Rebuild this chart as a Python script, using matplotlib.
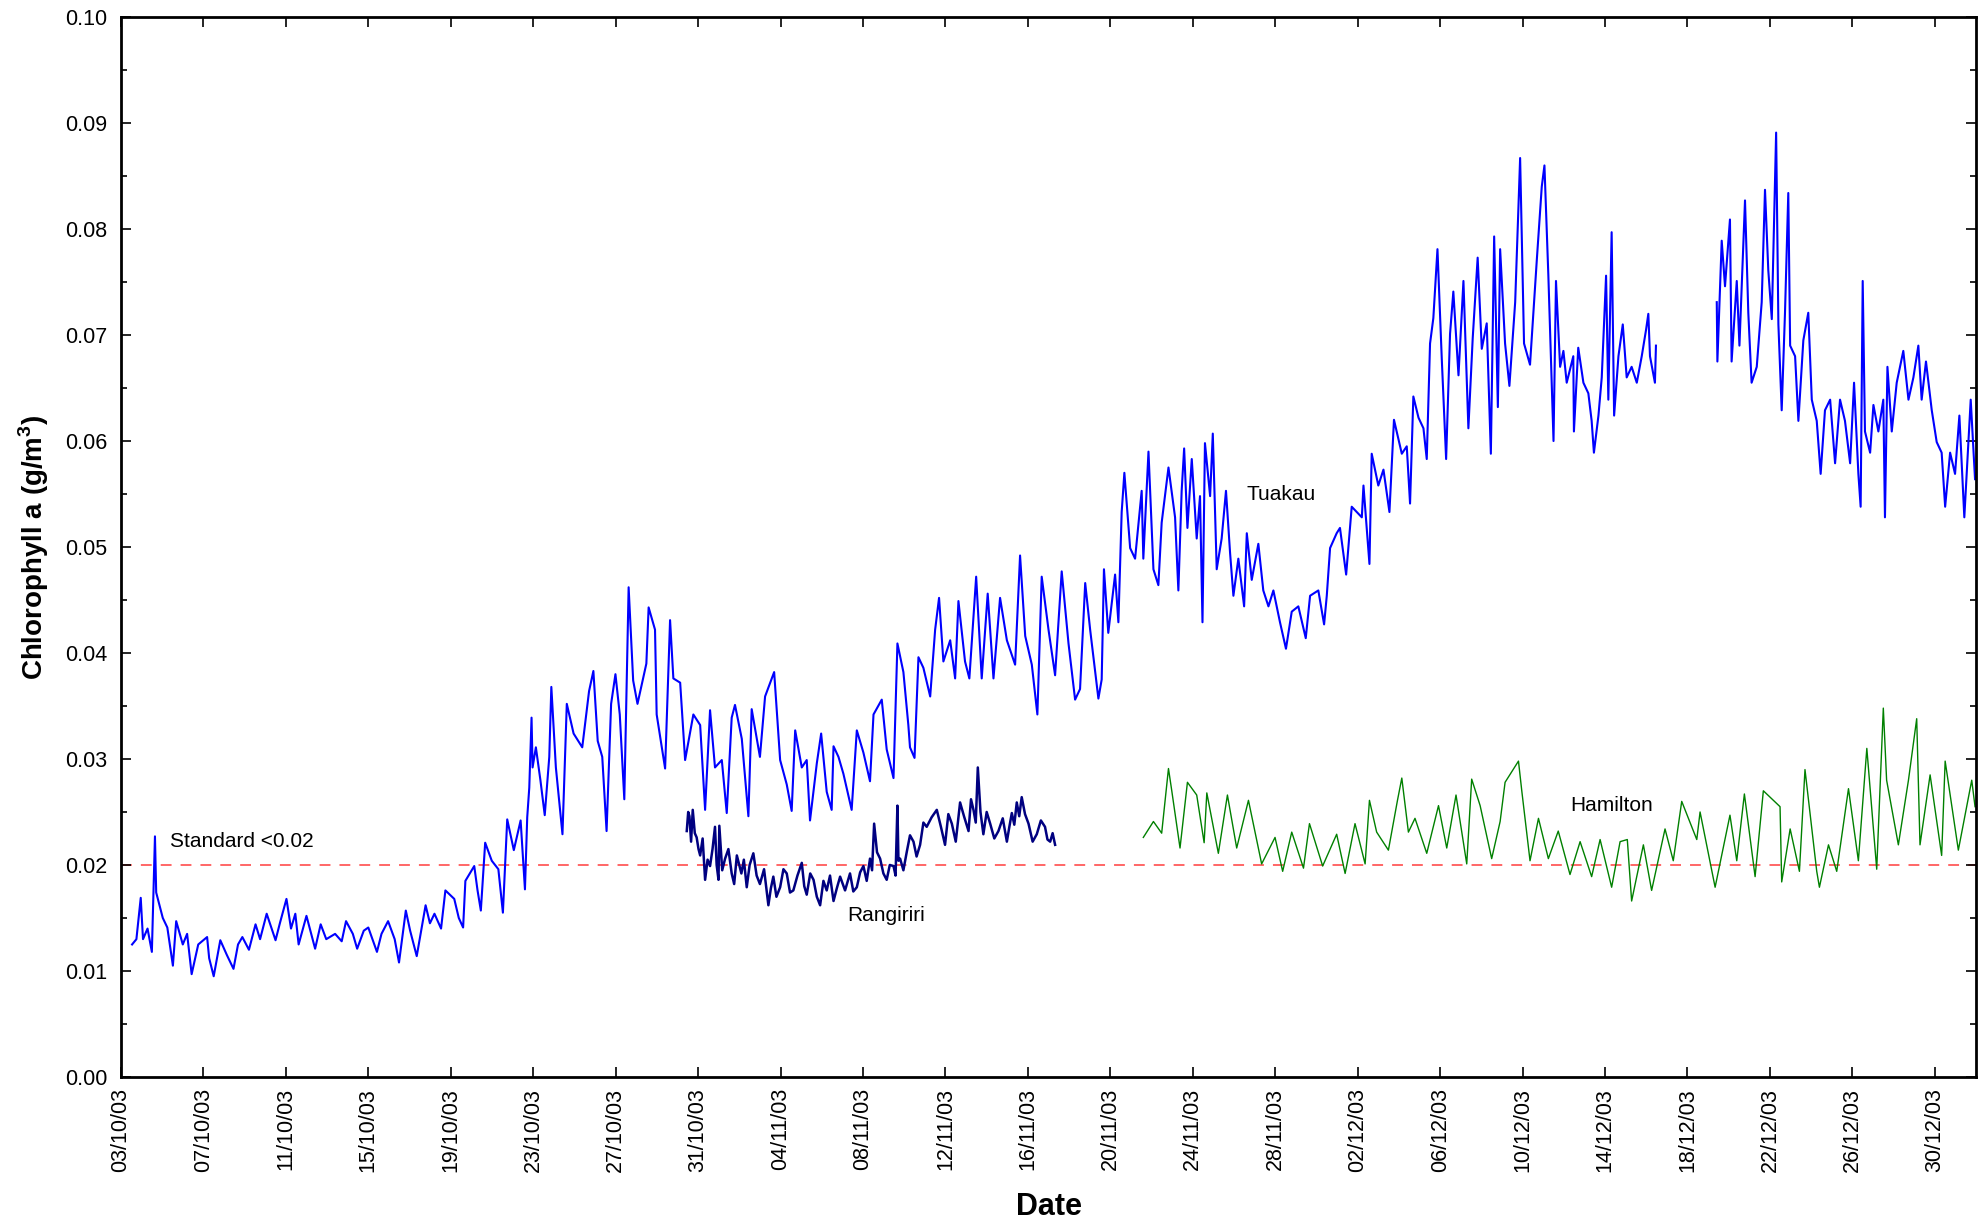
import numpy as np
import pandas as pd
import matplotlib
matplotlib.use("Agg")
import matplotlib.pyplot as plt
import matplotlib.dates as mdates
from matplotlib.ticker import MultipleLocator, FormatStrFormatter

# days after 03/10/03 00:00, chlorophyll a (g/m3)
tuakau_a_day = [
    0.54, 0.75, 0.96, 1.07, 1.29, 1.5, 1.65, 1.71, 2.03, 2.25, 2.52, 2.68, 3.0, 3.21, 3.43,
    3.75, 4.18, 4.28, 4.5, 4.82, 5.14, 5.46, 5.68, 5.89, 6.21, 6.53, 6.75, 7.07, 7.5, 7.71,
    8.03, 8.25, 8.46, 8.62, 9.0, 9.42, 9.69, 9.96, 10.39, 10.71, 10.92, 11.25, 11.46, 11.78,
    12.0, 12.42, 12.64, 12.96, 13.28, 13.49, 13.82, 14.03, 14.35, 14.78, 14.99, 15.21, 15.53,
    15.74, 16.17, 16.39, 16.6, 16.71, 17.14, 17.3, 17.46, 17.67, 17.99, 18.31, 18.53, 18.74,
    19.06, 19.39, 19.6, 19.71, 19.81, 19.92, 19.97, 20.13, 20.35, 20.56, 20.78, 20.88, 21.1,
    21.42, 21.63, 21.96, 22.38, 22.71, 22.92, 23.13, 23.35, 23.56, 23.78, 23.99, 24.2, 24.42,
    24.63, 24.85, 25.06, 25.49, 25.6,
    25.91, 25.99, 26.4, 26.64, 26.8, 27.13, 27.37, 27.77, 28.1, 28.34, 28.58, 28.82, 29.15,
    29.39, 29.63, 29.79, 30.12, 30.44, 30.6, 31.0, 31.25, 31.69, 31.98, 32.3, 32.54, 32.71,
    33.03, 33.27, 33.43, 33.76, 33.97, 34.24, 34.48, 34.57, 34.81, 35.05, 35.45, 35.7, 36.02,
    36.34, 36.51, 36.91, 37.15, 37.48, 37.67, 37.96, 38.2, 38.28, 38.5, 38.69, 38.93, 39.26,
    39.5, 39.69, 39.9, 40.23, 40.47, 40.63, 40.95, 41.16, 41.49, 41.76, 42.05, 42.33, 42.65,
    42.98, 43.38, 43.62, 43.87, 44.19, 44.46, 44.67, 45.0, 45.32, 45.64, 45.97, 46.29, 46.53,
    46.78, 47.02, 47.42,
    47.58, 47.69, 47.9, 48.23, 48.39, 48.55, 48.68, 48.96, 49.2, 49.52, 49.6, 49.85, 50.09,
    50.33, 50.49, 50.82, 51.14, 51.3, 51.46, 51.58, 51.74, 51.95, 52.19, 52.35, 52.47, 52.59,
    52.84, 52.97, 53.16, 53.4, 53.61, 53.81, 53.97, 54.21, 54.49, 54.62, 54.86, 55.18, 55.42,
    55.67, 55.91, 56.23, 56.52, 56.8, 57.12, 57.48, 57.69, 58.09, 58.37, 58.5, 58.66, 58.98,
    59.14, 59.44, 59.71, 60.2, 60.28, 60.57, 60.68, 61.0, 61.25, 61.54, 61.76, 62.14, 62.38,
    62.54, 62.7, 62.95, 63.19, 63.35, 63.51, 63.67, 63.87, 64.08, 64.29, 64.48, 64.64, 64.89,
    65.13, 65.37, 65.58, 65.82, 66.02, 66.26, 66.46, 66.62, 66.8, 66.91, 67.15, 67.36, 67.64,
    67.88, 68.07, 68.36, 68.69, 68.93, 69.06, 69.25, 69.5,
    69.62, 69.82, 69.98, 70.14, 70.46, 70.49, 70.7, 70.95, 71.19, 71.35, 71.46, 71.68, 71.84,
    72.05, 72.16, 72.32, 72.44, 72.65, 72.86, 73.05, 73.29, 73.54, 73.78, 73.99, 74.1, 74.18,
    74.42, 74.47,
]
tuakau_a_val = [
    0.0125, 0.0130, 0.0169, 0.0130, 0.0140, 0.0118, 0.0227, 0.0174, 0.0150, 0.0141, 0.0105,
    0.0147, 0.0125, 0.0135, 0.0097, 0.0125, 0.0132, 0.0112, 0.0095, 0.0129, 0.0115, 0.0102,
    0.0125, 0.0132, 0.0120, 0.0144, 0.0130, 0.0154, 0.0129, 0.0145, 0.0168, 0.0140, 0.0154,
    0.0125, 0.0152, 0.0121, 0.0144, 0.0130, 0.0135, 0.0128, 0.0147, 0.0135, 0.0121, 0.0138,
    0.0141, 0.0118, 0.0135, 0.0147, 0.0130, 0.0108, 0.0157, 0.0138, 0.0114, 0.0162, 0.0145,
    0.0154, 0.0140, 0.0176, 0.0168, 0.0150, 0.0141, 0.0185, 0.0199, 0.0176, 0.0157, 0.0221,
    0.0204, 0.0196, 0.0155, 0.0243, 0.0214, 0.0242, 0.0177, 0.0245, 0.0273, 0.0339, 0.0292,
    0.0311, 0.0280, 0.0247, 0.0302, 0.0368, 0.0292, 0.0229, 0.0352, 0.0324, 0.0311, 0.0364,
    0.0383, 0.0317, 0.0302, 0.0232, 0.0352, 0.0380, 0.0342, 0.0262, 0.0462, 0.0374, 0.0352,
    0.0390, 0.0443,
    0.0422, 0.0342, 0.0291, 0.0431, 0.0376, 0.0372, 0.0299, 0.0342, 0.0332, 0.0252, 0.0346,
    0.0292, 0.0299, 0.0249, 0.0339, 0.0351, 0.0319, 0.0246, 0.0347, 0.0302, 0.0359, 0.0382,
    0.0299, 0.0276, 0.0251, 0.0327, 0.0292, 0.0299, 0.0242, 0.0296, 0.0324, 0.0269, 0.0252,
    0.0312, 0.0302, 0.0286, 0.0252, 0.0327, 0.0306, 0.0279, 0.0342, 0.0356, 0.0309, 0.0282,
    0.0409, 0.0382, 0.0332, 0.0311, 0.0301, 0.0396, 0.0386, 0.0359, 0.0422, 0.0452, 0.0392,
    0.0412, 0.0376, 0.0449, 0.0392, 0.0376, 0.0472, 0.0376, 0.0456, 0.0376, 0.0452, 0.0412,
    0.0389, 0.0492, 0.0416, 0.0389, 0.0342, 0.0472, 0.0422, 0.0379, 0.0477, 0.0409, 0.0356,
    0.0366, 0.0466, 0.0422, 0.0357,
    0.0375, 0.0479, 0.0419, 0.0474, 0.0429, 0.0533, 0.0570, 0.0499, 0.0489, 0.0553, 0.0489,
    0.0590, 0.0479, 0.0464, 0.0523, 0.0575, 0.0528, 0.0459, 0.0553, 0.0593, 0.0518, 0.0583,
    0.0508, 0.0548, 0.0429, 0.0598, 0.0548, 0.0607, 0.0479, 0.0508, 0.0553, 0.0494, 0.0454,
    0.0489, 0.0444, 0.0513, 0.0469, 0.0503, 0.0459, 0.0444, 0.0459, 0.0429, 0.0404, 0.0439,
    0.0444, 0.0414, 0.0454, 0.0459, 0.0427, 0.0454, 0.0499, 0.0513, 0.0518, 0.0474, 0.0538,
    0.0528, 0.0558, 0.0484, 0.0588, 0.0558, 0.0573, 0.0533, 0.0620, 0.0588, 0.0595, 0.0541,
    0.0642, 0.0622, 0.0612, 0.0583, 0.0692, 0.0716, 0.0781, 0.0677, 0.0583, 0.0701, 0.0741,
    0.0662, 0.0751, 0.0612, 0.0697, 0.0773, 0.0687, 0.0711, 0.0588, 0.0793, 0.0632, 0.0781,
    0.0692, 0.0652, 0.0731, 0.0867, 0.0692, 0.0672, 0.0771, 0.0840, 0.0860, 0.0756, 0.0600,
    0.0751, 0.0670, 0.0685, 0.0655, 0.0680, 0.0609, 0.0688, 0.0655, 0.0645, 0.0619, 0.0589,
    0.0624, 0.0660, 0.0756, 0.0639, 0.0797, 0.0624, 0.0680, 0.0710, 0.0660, 0.0670, 0.0655,
    0.0680, 0.0705, 0.0720, 0.0680, 0.0655, 0.0690,
]

tuakau_b_day = [
    77.42, 77.45, 77.66, 77.82, 78.06, 78.14, 78.39, 78.52, 78.79, 78.95, 79.11, 79.36, 79.6,
    79.76, 79.92, 80.09, 80.3, 80.41, 80.57, 80.73, 80.89, 80.98, 81.22, 81.38, 81.62, 81.86,
    82.03, 82.27, 82.46, 82.67, 82.92, 83.16, 83.4, 83.64, 83.89, 84.08, 84.29, 84.4, 84.5,
    84.61, 84.86, 85.02, 85.26, 85.5, 85.58, 85.7, 85.91, 86.15, 86.47, 86.72, 86.96, 87.2,
    87.36, 87.57, 87.85, 88.09, 88.33, 88.5, 88.74, 88.98, 89.19, 89.43, 89.74, 89.95,
]
tuakau_b_val = [
    0.0731, 0.0675, 0.0789, 0.0746, 0.0809, 0.0675, 0.0751, 0.0690, 0.0827, 0.0721, 0.0655,
    0.0670, 0.0731, 0.0837, 0.0761, 0.0715, 0.0891, 0.0710, 0.0629, 0.0721, 0.0834, 0.0690,
    0.0680, 0.0619, 0.0695, 0.0721, 0.0639, 0.0619, 0.0569, 0.0629, 0.0639, 0.0579, 0.0639,
    0.0619, 0.0579, 0.0655, 0.0569, 0.0538, 0.0751, 0.0609, 0.0589, 0.0634, 0.0609, 0.0639,
    0.0528, 0.0670, 0.0609, 0.0655, 0.0685, 0.0639, 0.0660, 0.0690, 0.0639, 0.0675, 0.0629,
    0.0599, 0.0589, 0.0538, 0.0589, 0.0569, 0.0624, 0.0528, 0.0639, 0.0564,
]

rangiriri_day = [
    27.45, 27.52, 27.58, 27.66, 27.74, 27.84, 27.93, 28.02, 28.1, 28.22, 28.34, 28.46, 28.58,
    28.7, 28.82, 28.9, 28.99, 29.03, 29.17, 29.31, 29.47, 29.63, 29.75, 29.88, 30.1, 30.22,
    30.36, 30.5, 30.68, 30.84, 31.0, 31.2, 31.41, 31.53, 31.65, 31.8, 31.98, 32.14, 32.3,
    32.46, 32.62, 32.82, 33.03, 33.15, 33.27, 33.44, 33.6, 33.76, 33.92, 34.08, 34.24, 34.4,
    34.57, 34.73, 34.89, 35.13, 35.37, 35.53, 35.7, 35.86, 36.02, 36.18, 36.34, 36.44, 36.54,
    36.68, 36.83, 36.99, 37.15, 37.3, 37.48, 37.58, 37.67, 37.72, 37.8, 37.96, 38.12, 38.28,
    38.45, 38.6, 38.77, 38.93, 39.09, 39.33, 39.58, 39.78, 39.98, 40.14, 40.31, 40.5, 40.71,
    40.9, 41.12, 41.24, 41.36, 41.47, 41.57, 41.7, 41.84, 42.0, 42.17, 42.37, 42.57, 42.78,
    42.98, 43.1, 43.22, 43.34, 43.46, 43.58, 43.7, 43.86, 44.03, 44.23, 44.43, 44.63, 44.83,
    44.95, 45.08, 45.2, 45.32,
]
rangiriri_val = [
    0.0232, 0.0250, 0.0246, 0.0222, 0.0252, 0.0230, 0.0226, 0.0215, 0.0209, 0.0225, 0.0186,
    0.0205, 0.0199, 0.0215, 0.0236, 0.0200, 0.0186, 0.0237, 0.0195, 0.0206, 0.0215, 0.0192,
    0.0182, 0.0209, 0.0192, 0.0205, 0.0179, 0.0200, 0.0211, 0.0190, 0.0182, 0.0196, 0.0162,
    0.0178, 0.0189, 0.0170, 0.0179, 0.0196, 0.0192, 0.0174, 0.0176, 0.0190, 0.0202, 0.0180,
    0.0172, 0.0192, 0.0186, 0.0170, 0.0162, 0.0185, 0.0176, 0.0190, 0.0166, 0.0178, 0.0189,
    0.0176, 0.0192, 0.0175, 0.0179, 0.0193, 0.0199, 0.0185, 0.0206, 0.0195, 0.0239, 0.0212,
    0.0206, 0.0192, 0.0186, 0.0200, 0.0199, 0.0190, 0.0256, 0.0204, 0.0206, 0.0195, 0.0212,
    0.0228, 0.0222, 0.0208, 0.0219, 0.0240, 0.0236, 0.0245, 0.0252, 0.0236, 0.0219, 0.0248,
    0.0239, 0.0222, 0.0259, 0.0246, 0.0232, 0.0262, 0.0252, 0.0240, 0.0292, 0.0250, 0.0229,
    0.0250, 0.0239, 0.0225, 0.0232, 0.0244, 0.0222, 0.0236, 0.0249, 0.0238, 0.0259, 0.0246,
    0.0264, 0.0248, 0.0239, 0.0222, 0.0229, 0.0242, 0.0236, 0.0224, 0.0222, 0.0230, 0.0219,
]

hamilton_day = [
    49.6, 50.09, 50.49, 50.82, 50.98, 51.38, 51.74, 52.19, 52.55, 52.68, 53.24, 53.68, 54.13,
    54.7, 55.34, 55.99, 56.36, 56.8, 57.37, 57.66, 58.3, 58.98, 59.39, 59.87, 60.36, 60.57,
    60.92, 61.49, 61.93, 62.14, 62.46, 62.78, 63.35, 63.92, 64.32, 64.77, 65.29, 65.53, 65.94,
    66.5, 66.91, 67.15, 67.8, 67.96, 68.36, 68.77, 69.25,
    69.73, 70.3, 70.79, 71.35, 71.76, 72.32, 72.73, 73.08, 73.29, 73.86, 74.26, 74.91, 75.31,
    75.72, 76.45, 76.61, 77.34, 78.06, 78.39, 78.76, 79.28, 79.68, 80.49, 80.57, 80.98, 81.43,
    81.7, 82.27, 82.4, 82.84, 83.24, 83.81, 84.29, 84.7, 85.18, 85.5, 85.66, 86.23, 86.72,
    87.12, 87.28, 87.77, 88.33, 88.5, 89.14, 89.79, 89.95,
]
hamilton_val = [
    0.0226, 0.0241, 0.0230, 0.0291, 0.0270, 0.0216, 0.0278, 0.0266, 0.0221, 0.0268, 0.0211,
    0.0266, 0.0216, 0.0261, 0.0201, 0.0226, 0.0194, 0.0231, 0.0197, 0.0239, 0.0199, 0.0229,
    0.0192, 0.0239, 0.0201, 0.0261, 0.0231, 0.0214, 0.0261, 0.0282, 0.0231, 0.0244, 0.0211,
    0.0256, 0.0216, 0.0266, 0.0201, 0.0281, 0.0256, 0.0206, 0.0241, 0.0278, 0.0298, 0.0270,
    0.0204, 0.0244, 0.0206,
    0.0232, 0.0191, 0.0222, 0.0189, 0.0224, 0.0179, 0.0222, 0.0224, 0.0166, 0.0219, 0.0176,
    0.0234, 0.0204, 0.0260, 0.0224, 0.0250, 0.0179, 0.0247, 0.0204, 0.0267, 0.0189, 0.0270,
    0.0255, 0.0184, 0.0234, 0.0194, 0.0290, 0.0194, 0.0179, 0.0219, 0.0194, 0.0272, 0.0204,
    0.0310, 0.0196, 0.0348, 0.0280, 0.0219, 0.0280, 0.0338, 0.0219, 0.0285, 0.0209, 0.0298,
    0.0214, 0.0280, 0.0255,
]

standard = 0.02
start = pd.Timestamp("2003-10-03")
end = pd.Timestamp("2004-01-01")


def to_dates(days):
    return start + pd.to_timedelta(np.array(days), unit="D")


plt.rcParams["font.family"] = ["Liberation Sans", "DejaVu Sans"]

fig = plt.figure(figsize=(19.86, 12.18), dpi=100)
ax = fig.add_axes([0.0609, 0.1158, 0.9341, 0.8702])

ax.axhline(standard, color="#ff5a5a", lw=1.3, ls=(0, (6, 5)), zorder=1)
ax.plot(to_dates(tuakau_a_day), tuakau_a_val, color="#0000ff", lw=1.5)
ax.plot(to_dates(tuakau_b_day), tuakau_b_val, color="#0000ff", lw=1.5)
ax.plot(to_dates(rangiriri_day), rangiriri_val, color="#000080", lw=1.8)
ax.plot(to_dates(hamilton_day), hamilton_val, color="#008000", lw=1.0)

ax.text(start + pd.Timedelta(days=2.4), 0.0222, "Standard <0.02", fontsize=15, va="center")
ax.text(start + pd.Timedelta(days=37.1), 0.0152, "Rangiriri", fontsize=15, ha="center", va="center")
ax.text(start + pd.Timedelta(days=56.3), 0.0550, "Tuakau", fontsize=15, ha="center", va="center")
ax.text(start + pd.Timedelta(days=72.3), 0.0256, "Hamilton", fontsize=15, ha="center", va="center")

ax.set_xlim(start, end)
ax.set_ylim(0, 0.1)
ax.set_xticks(pd.date_range("2003-10-03", "2003-12-30", freq="4D"))
ax.xaxis.set_major_formatter(mdates.DateFormatter("%d/%m/%y"))
ax.yaxis.set_major_locator(MultipleLocator(0.01))
ax.yaxis.set_minor_locator(MultipleLocator(0.005))
ax.yaxis.set_major_formatter(FormatStrFormatter("%.2f"))
ax.tick_params(which="both", direction="in", top=True, right=True, width=1.2, labelsize=15.5)
ax.tick_params(which="major", length=7)
ax.tick_params(which="minor", length=4)
ax.tick_params(axis="x", labelrotation=90, pad=8)
ax.tick_params(axis="y", pad=10)
for s in ax.spines.values():
    s.set_linewidth(2)

ax.set_xlabel("Date", fontsize=22, fontweight="bold", labelpad=14)
ax.set_ylabel("Chlorophyll a (g/m$^\\mathregular{3}$)", fontsize=20, fontweight="bold", labelpad=10)

# the title sits above the top edge in the original, only its descenders show
fig.text(0.49, 1 + 9 / 1218, "Chlorophyll a levels, Rangiriri and Tuakau (October - December 2003)",
         ha="center", va="baseline", fontsize=22, fontweight="bold")

fig.savefig("out.png", dpi=100)
